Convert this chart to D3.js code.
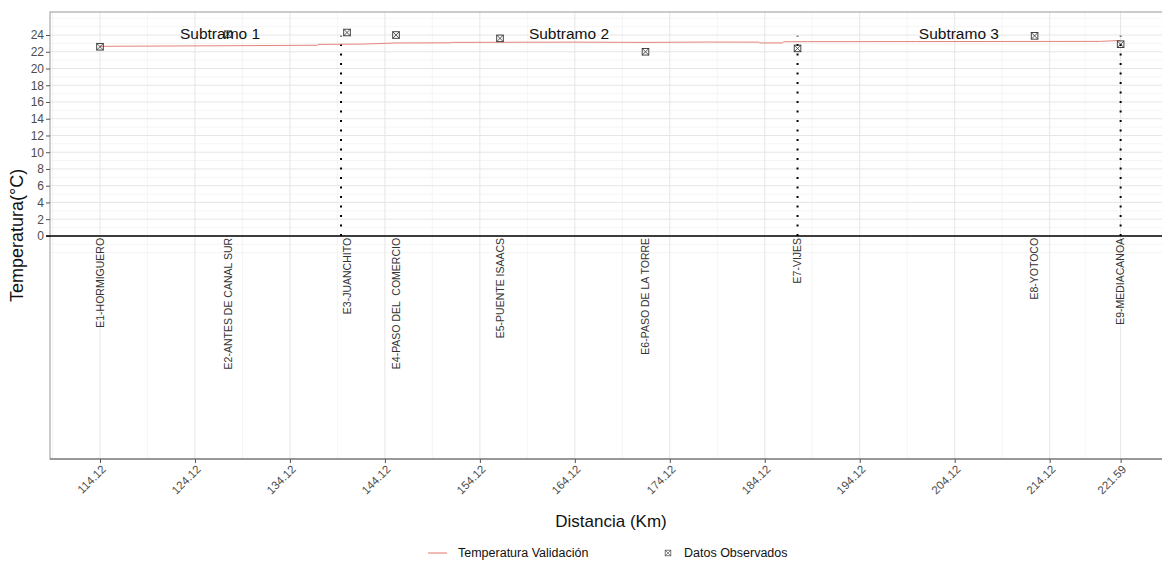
<!DOCTYPE html>
<html>
<head>
<meta charset="utf-8">
<script src="https://cdn.jsdelivr.net/npm/d3@7"></script>
<style>
  html, body { margin: 0; padding: 0; background: #fff; }
  svg { display: block; font-family: "Liberation Sans", Arial, sans-serif; }
</style>
</head>
<body>
<svg id="chart" width="1162" height="566"></svg>
<script>
// ---- data ----
const stationNames = ["E1-HORMIGUERO", "E2-ANTES DE CANAL SUR", "E3-JUANCHITO", "E4-PASO DEL  COMERCIO",
  "E5-PUENTE ISAACS", "E6-PASO DE LA TORRE", "E7-VIJES", "E8-YOTOCO", "E9-MEDIACANOA"];
const stationDist = [114.12, 127.6, 140.13, 145.29, 156.24, 171.56, 187.57, 212.53, 221.59];
const observedTemp = [22.6, 24.1, 24.3, 24.0, 23.6, 22.0, 22.4, 23.9, 22.9];

const simDist = [114.12, 127.6, 137.0, 137.1, 139.5, 142.0, 145.3, 151.0, 151.1, 164.0, 171.6, 178.0, 183.5, 183.6, 186.0, 186.1, 200.0, 219.5, 221.59];
const simTemp = [22.65, 22.72, 22.78, 22.88, 22.9, 22.92, 23.05, 23.07, 23.12, 23.15, 23.12, 23.16, 23.15, 23.05, 23.06, 23.2, 23.22, 23.24, 23.35];

const boundaryDist = [139.5, 187.57, 221.59];

const subtramoLabels = ["Subtramo 1", "Subtramo 2", "Subtramo 3"];
const subtramoDist = [126.76, 163.5, 204.56];
const subtramoTemp = [24.2, 24.2, 24.2];

const xTicks = [114.12, 124.12, 134.12, 144.12, 154.12, 164.12, 174.12, 184.12, 194.12, 204.12, 214.12, 221.59];
const xMinor = [109.12, 119.12, 129.12, 139.12, 149.12, 159.12, 169.12, 179.12, 189.12, 199.12, 209.12, 217.855, 226.59];
const yTicks = [0, 2, 4, 6, 8, 10, 12, 14, 16, 18, 20, 22, 24];
const yMinor = [-2, -1, 1, 3, 5, 7, 9, 11, 13, 15, 17, 19, 21, 23, 25, 26];

// ---- layout ----
const svg = d3.select("#chart");
const L = 50, R = 1172, T = 12, B = 459;
const x = d3.scaleLinear().domain([108.855, 227.0]).range([L, R]);
const y = d3.scaleLinear().domain([-26.65, 26.75]).range([B, T]);

const grid = svg.append("g");
grid.selectAll(".hmin").data(yMinor).join("line")
  .attr("x1", L).attr("x2", R).attr("y1", d => y(d)).attr("y2", d => y(d))
  .attr("stroke", "#eeeeee").attr("stroke-width", 0.6);
grid.selectAll(".vmin").data(xMinor).join("line")
  .attr("y1", T).attr("y2", B).attr("x1", d => x(d)).attr("x2", d => x(d))
  .attr("stroke", "#eeeeee").attr("stroke-width", 0.6);
grid.selectAll(".hmaj").data(yTicks).join("line")
  .attr("x1", L).attr("x2", R).attr("y1", d => y(d)).attr("y2", d => y(d))
  .attr("stroke", "#e6e6e6").attr("stroke-width", 1);
grid.selectAll(".vmaj").data(xTicks).join("line")
  .attr("y1", T).attr("y2", B).attr("x1", d => x(d)).attr("x2", d => x(d))
  .attr("stroke", "#e6e6e6").attr("stroke-width", 1);

// panel border
svg.append("rect").attr("x", L).attr("y", T).attr("width", R - L).attr("height", B - T)
  .attr("fill", "none").attr("stroke", "#a8a8a8").attr("stroke-width", 1.2);
svg.append("line").attr("x1", L).attr("x2", R).attr("y1", B).attr("y2", B)
  .attr("stroke", "#666").attr("stroke-width", 1.2);

// axes
const yAxis = svg.append("g").attr("transform", `translate(${L},0)`)
  .call(d3.axisLeft(y).tickValues(yTicks).tickSize(4).tickPadding(2));
yAxis.select(".domain").remove();
yAxis.selectAll("line").attr("stroke", "#555");
yAxis.selectAll("text").attr("fill", "#4d4d4d").style("font-size", "12px")
  .style("font-family", "'Liberation Sans', Arial, sans-serif");

const xAxis = svg.append("g").attr("transform", `translate(0,${B})`)
  .call(d3.axisBottom(x).tickValues(xTicks).tickSize(4).tickFormat(d => d.toFixed(2)));
xAxis.select(".domain").remove();
xAxis.selectAll("line").attr("stroke", "#555");
xAxis.selectAll("text").attr("fill", "#4d4d4d").style("font-size", "11.5px")
  .style("font-family", "'Liberation Sans', Arial, sans-serif")
  .attr("text-anchor", "end").attr("dy", null).attr("y", 0)
  .attr("transform", "translate(6,11) rotate(-45)");

// zero line
svg.append("line").attr("x1", L - 4).attr("x2", R).attr("y1", y(0)).attr("y2", y(0))
  .attr("stroke", "#000").attr("stroke-width", 1.5);

// subtramo boundaries
svg.selectAll(".bnd").data(boundaryDist).join("line")
  .attr("x1", d => x(d)).attr("x2", d => x(d)).attr("y1", y(0)).attr("y2", y(23.9))
  .attr("stroke", "#000").attr("stroke-width", 2).attr("stroke-dasharray", "2,7.5");

// simulated line
svg.append("path").datum(simDist.map((d, i) => [d, simTemp[i]]))
  .attr("d", d3.line().x(d => x(d[0])).y(d => y(d[1])))
  .attr("fill", "none").attr("stroke", "#e4837a").attr("stroke-width", 1);

// observed points (square with X)
const s = 3.3;
const pts = svg.selectAll(".pt").data(stationDist.map((d, i) => [d, observedTemp[i]])).join("g")
  .attr("transform", d => `translate(${x(d[0])},${y(d[1])})`);
pts.append("rect").attr("x", -s).attr("y", -s).attr("width", 2 * s).attr("height", 2 * s)
  .attr("fill", "none").attr("stroke", "#333").attr("stroke-width", 0.9);
pts.append("path").attr("d", `M${-s},${-s}L${s},${s}M${s},${-s}L${-s},${s}`)
  .attr("stroke", "#333").attr("stroke-width", 0.8);

// subtramo labels
svg.selectAll(".sub").data(subtramoLabels).join("text")
  .attr("x", (d, i) => x(subtramoDist[i])).attr("y", (d, i) => y(subtramoTemp[i]))
  .attr("text-anchor", "middle").attr("dy", "0.35em")
  .style("font-size", "15.5px").attr("fill", "#111").text(d => d);

// station labels
svg.selectAll(".st").data(stationNames).join("text")
  .attr("transform", (d, i) => `translate(${x(stationDist[i])},${y(0) + 2}) rotate(-90)`)
  .attr("text-anchor", "end").attr("dy", "0.35em")
  .style("font-size", "10.5px").attr("fill", "#333").style("white-space", "pre")
  .attr("xml:space", "preserve").text(d => d);

// axis titles
svg.append("text").attr("x", (L + R) / 2).attr("y", 527).attr("text-anchor", "middle")
  .style("font-size", "17px").attr("fill", "#111").text("Distancia (Km)");
svg.append("text").attr("transform", `translate(23,${(T + B) / 2}) rotate(-90)`)
  .attr("text-anchor", "middle").style("font-size", "18px").attr("fill", "#111").text("Temperatura(°C)");

// legend
const lg = svg.append("g").attr("transform", "translate(0,553)");
lg.append("line").attr("x1", 428).attr("x2", 447).attr("y1", 0).attr("y2", 0)
  .attr("stroke", "#e4837a").attr("stroke-width", 1.1);
lg.append("text").attr("x", 458).attr("y", 0).attr("dy", "0.35em").style("font-size", "12.5px")
  .attr("fill", "#111").text("Temperatura Validación");
const lk = lg.append("g").attr("transform", "translate(668,0)");
const s2 = 2.8;
lk.append("rect").attr("x", -s2).attr("y", -s2).attr("width", 2 * s2).attr("height", 2 * s2)
  .attr("fill", "none").attr("stroke", "#555").attr("stroke-width", 0.8);
lk.append("path").attr("d", `M${-s2},${-s2}L${s2},${s2}M${s2},${-s2}L${-s2},${s2}`)
  .attr("stroke", "#555").attr("stroke-width", 0.7);
lg.append("text").attr("x", 684).attr("y", 0).attr("dy", "0.35em").style("font-size", "12.5px")
  .attr("fill", "#111").text("Datos Observados");
</script>
</body>
</html>
